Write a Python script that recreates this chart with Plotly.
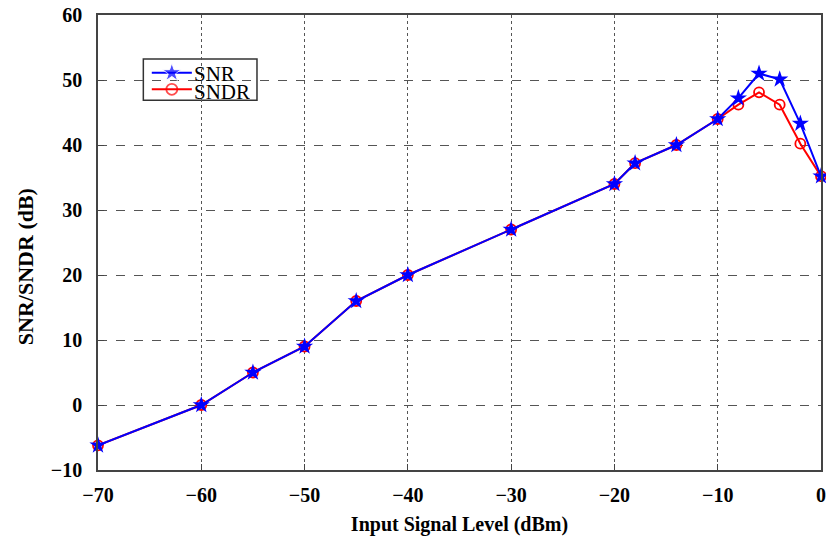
import plotly.graph_objects as go

x_dbm = [-70, -60, -55, -50, -45, -40, -30, -20, -18, -14, -10, -8, -6, -4, -2, 0]
snr = [-6.2, 0, 5, 9, 16, 20, 27, 34, 37.2, 40, 44, 47.2, 51, 50.1, 43.3, 35.2]
sndr = [-6.2, 0, 5, 9, 16, 20, 27, 34, 37.2, 40, 44, 46.2, 48.1, 46.2, 40.2, 35.2]

x_ticks = [-70, -60, -50, -40, -30, -20, -10, 0]
x_labels = ["\u221270", "\u221260", "\u221250", "\u221240", "\u221230", "\u221220", "\u221210", "0"]
y_ticks = [-10, 0, 10, 20, 30, 40, 50, 60]
y_labels = ["\u221210", "0", "10", "20", "30", "40", "50", "60"]

series_names = ["SNR", "SNDR"]
series_colors = ["#0000ff", "#ff0000"]

# legend box placement (fractions of the plot area)
LEG_X0, LEG_X1, LEG_Y0, LEG_Y1 = 0.0627, 0.2199, 0.8127, 0.9033
LEG_ROWS = [0.8732, 0.8367]
LEG_TEXT_ROWS = [0.8708, 0.8323]
LEG_LINE = [0.0744, 0.1021, 0.1298]
LEG_TEXT_X = 0.1300

fig = go.Figure()
fig.add_trace(go.Scatter(
    x=x_dbm, y=sndr, name="SNDR", mode="lines+markers", cliponaxis=False,
    line=dict(color=series_colors[1], width=2),
    marker=dict(symbol="circle-open", size=10, color=series_colors[1], line=dict(width=1.8)),
    showlegend=False,
))
fig.add_trace(go.Scatter(
    x=x_dbm, y=snr, name="SNR", mode="lines+markers", cliponaxis=False,
    line=dict(color=series_colors[0], width=2),
    marker=dict(symbol="star", size=13, color=series_colors[0]),
    showlegend=False,
))

# legend samples on a hidden overlay axis spanning [0, 1]
legend_symbols = [dict(symbol="star", size=[0, 14, 0]),
                  dict(symbol="circle-open", size=[0, 11, 0], line=dict(width=1.8))]
for name, color, row, trow, sym in zip(series_names, series_colors, LEG_ROWS, LEG_TEXT_ROWS, legend_symbols):
    fig.add_trace(go.Scatter(
        x=LEG_LINE, y=[row] * 3, mode="lines+markers", xaxis="x2", yaxis="y2",
        line=dict(color=color, width=2), marker=dict(color=color, **sym),
        showlegend=False, hoverinfo="skip", cliponaxis=False,
    ))
    fig.add_annotation(
        x=LEG_TEXT_X, y=trow, xref="paper", yref="paper", text=name, showarrow=False,
        xanchor="left", yanchor="middle", height=17,
        font=dict(family="Liberation Serif", size=21, color="#000000"),
    )

fig.add_shape(
    type="rect", xref="paper", yref="paper", x0=LEG_X0, x1=LEG_X1, y0=LEG_Y0, y1=LEG_Y1,
    fillcolor="white", line=dict(color="#333333", width=1.5), layer="between",
)

# y-axis title (offset slightly below the plot centre, as in the original)
fig.add_annotation(
    x=-0.101, y=0.448, xref="paper", yref="paper", text="<b>SNR/SNDR (dB)</b>",
    showarrow=False, textangle=-90, xanchor="center", yanchor="middle",
    font=dict(family="Liberation Serif", size=22, color="#000000"),
)

axis_common = dict(
    showline=True, linecolor="#444444", linewidth=1.5, mirror=True,
    ticks="inside", ticklen=6, tickcolor="#444444",
    showgrid=True, gridcolor="#555555", gridwidth=1,
    zeroline=False, ticklabeloverflow="allow",
    tickfont=dict(family="Liberation Serif", size=20, color="#000000", weight="bold"),
)

fig.update_xaxes(
    range=[-70, 0], tickvals=x_ticks, ticktext=x_labels,
    griddash="dot", ticklabelstandoff=6,
    title=dict(text="<b>Input Signal Level (dBm)</b>", font=dict(family="Liberation Serif", size=20, color="#000000"), standoff=12),
    **axis_common,
)
fig.update_yaxes(
    range=[-10, 60], tickvals=y_ticks, ticktext=y_labels,
    griddash="dash", ticklabelstandoff=10,
    **axis_common,
)

fig.update_layout(
    xaxis2=dict(overlaying="x", range=[0, 1], visible=False, fixedrange=True),
    yaxis2=dict(overlaying="y", range=[0, 1], visible=False, fixedrange=True),
    width=826, height=542,
    margin=dict(l=98, r=5, t=15, b=72, autoexpand=False),
    paper_bgcolor="white", plot_bgcolor="white",
    showlegend=False,
)

fig.write_html(
    "out.html",
    config={"displayModeBar": False},
    post_script="document.body.style.margin='0';document.body.style.overflow='hidden';",
)
